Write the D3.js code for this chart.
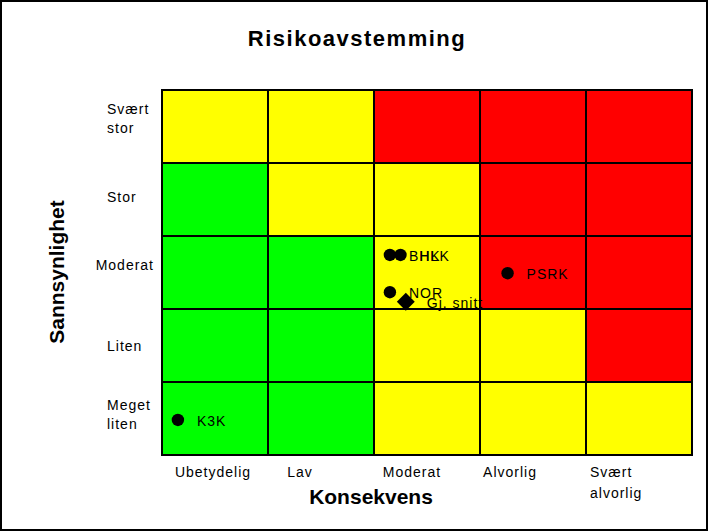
<!DOCTYPE html>
<html>
<head>
<meta charset="utf-8">
<script src="https://cdn.jsdelivr.net/npm/d3@7"></script>
<style>
  html, body { margin: 0; padding: 0; background: #fff; }
  svg text { font-family: "Liberation Sans", Arial, sans-serif; }
</style>
</head>
<body>
<div id="chart"></div>
<script>
// Konsekvens (x) and Sannsynlighet (y, bottom to top)
var consequences = ["Ubetydelig", "Lav", "Moderat", "Alvorlig", "Svært\nalvorlig"];
var likelihoods = ["Meget\nliten", "Liten", "Moderat", "Stor", "Svært\nstor"];

// risk colour per cell, rows from bottom (Meget liten) to top (Svært stor)
var riskRows = [
    ["G", "G", "Y", "Y", "Y"],
    ["G", "G", "Y", "Y", "R"],
    ["G", "G", "Y", "R", "R"],
    ["G", "Y", "Y", "R", "R"],
    ["Y", "Y", "R", "R", "R"]
];

// units plotted on the matrix (scale 0..5 on both axes)
var units = ["K3K", "BHK", "HLK", "NOR", "PSRK"];
var unitX = [0.15, 2.15, 2.25, 2.15, 3.26];
var unitY = [0.48, 2.74, 2.74, 2.23, 2.49];

var avgLabel = "Gj. snitt";
var avgX = 2.30;
var avgY = 2.10;

var riskColor = { G: "#00ff00", Y: "#ffff00", R: "#ff0000" };

var W = 708, H = 531;
var plot = { left: 162, right: 692, top: 90, bottom: 455 };

var svg = d3.select("#chart").append("svg")
    .attr("width", W)
    .attr("height", H);

svg.append("rect")
    .attr("x", 1).attr("y", 1)
    .attr("width", W - 2).attr("height", H - 2)
    .style("fill", "#fff")
    .style("stroke", "#000")
    .style("stroke-width", 2);

var x = d3.scaleLinear().domain([0, 5]).range([plot.left, plot.right]);
var y = d3.scaleLinear().domain([0, 5]).range([plot.bottom, plot.top]);

// cells
var cells = [];
riskRows.forEach(function(row, r) {
    row.forEach(function(c, i) { cells.push({ col: i, row: r, level: c }); });
});

svg.append("g").selectAll("rect")
    .data(cells)
    .enter().append("rect")
    .attr("x", function(d) { return x(d.col); })
    .attr("y", function(d) { return y(d.row + 1); })
    .attr("width", x(1) - x(0))
    .attr("height", y(0) - y(1))
    .style("fill", function(d) { return riskColor[d.level]; })
    .style("stroke", "#000")
    .style("stroke-width", 2);

// title
svg.append("text")
    .attr("x", 357).attr("y", 46)
    .style("text-anchor", "middle")
    .style("font-size", "22px")
    .style("font-weight", "bold")
    .style("letter-spacing", "1.5px")
    .text("Risikoavstemming");

// x tick labels (shift from column centre, px)
var xLabelShift = [-2, -21, -15, -23, 0];
consequences.forEach(function(lbl, i) {
    var lines = lbl.split("\n");
    var lx = lines.length > 1 ? x(i) + 4 : x(i + 0.5) + xLabelShift[i];
    var t = svg.append("text")
        .style("font-size", "14px")
        .style("letter-spacing", "1px")
        .style("text-anchor", lines.length > 1 ? "start" : "middle");
    lines.forEach(function(l, k) {
        t.append("tspan")
            .attr("x", lx)
            .attr("y", plot.bottom + 22 + k * 21)
            .text(l);
    });
});

// y tick labels, left aligned; wide ones end at the same right edge
var yLabelShift = [-4.5, 0.5, -7.5, -2.5, -8.5];
likelihoods.forEach(function(lbl, i) {
    var lines = lbl.split("\n");
    var cy = y(i + 0.5) + yLabelShift[i];
    var t = svg.append("text")
        .style("font-size", "14px")
        .style("letter-spacing", "1px");
    lines.forEach(function(l, k) {
        t.append("tspan")
            .attr("x", 107)
            .attr("y", cy + 5 + (k - (lines.length - 1) / 2) * 19)
            .text(l);
    });
    var w = t.node().getComputedTextLength();
    if (lines.length === 1 && w > 47) {
        t.selectAll("tspan").attr("x", 154 - w);
    }
});

// axis titles
svg.append("text")
    .attr("x", 371).attr("y", 504)
    .style("text-anchor", "middle")
    .style("font-size", "21px")
    .style("font-weight", "bold")
    .text("Konsekvens");

svg.append("text")
    .attr("transform", "translate(64," + 272 + ") rotate(-90)")
    .style("text-anchor", "middle")
    .style("font-size", "21px")
    .style("font-weight", "bold")
    .text("Sannsynlighet");

// points
var pts = units.map(function(u, i) { return { name: u, x: unitX[i], y: unitY[i] }; });

svg.append("g").selectAll("text")
    .data(pts)
    .enter().append("text")
    .attr("x", function(d) { return x(d.x) + 19; })
    .attr("y", function(d) { return y(d.y) + 6; })
    .style("font-size", "14px")
    .style("letter-spacing", "1px")
    .text(function(d) { return d.name; });

svg.append("g").selectAll("circle")
    .data(pts)
    .enter().append("circle")
    .attr("cx", function(d) { return x(d.x); })
    .attr("cy", function(d) { return y(d.y); })
    .attr("r", 6.2)
    .style("fill", "#000");

svg.append("path")
    .attr("d", d3.symbol().type(d3.symbolSquare).size(160))
    .attr("transform", "translate(" + x(avgX) + "," + y(avgY) + ") rotate(45)")
    .style("fill", "#000");

svg.append("text")
    .attr("x", x(avgX) + 21)
    .attr("y", y(avgY) + 6)
    .style("font-size", "14px")
    .style("letter-spacing", "1px")
    .text(avgLabel);
</script>
</body>
</html>
